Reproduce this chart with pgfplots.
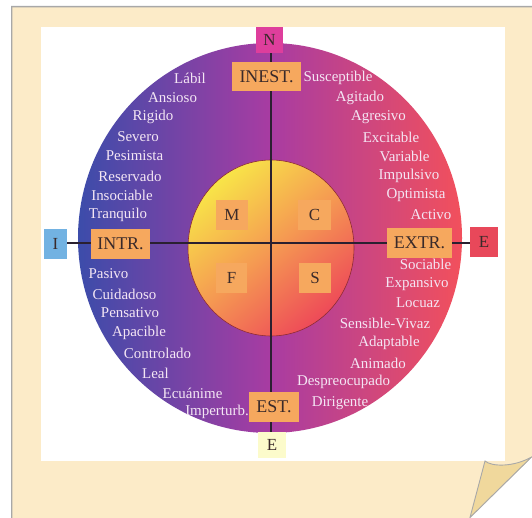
\documentclass[border=0pt]{standalone}
\usepackage{pgfplots}
\pgfplotsset{compat=1.18}
\usepackage{fontspec}
\setmainfont{Liberation Serif}
\definecolor{note}{HTML}{FCEBC8}
\definecolor{notebd}{HTML}{A8A8A8}
\definecolor{fold}{HTML}{F0D89C}
\definecolor{cblue}{HTML}{3C4CAA}
\definecolor{cmid}{HTML}{A83CA2}
\definecolor{cred}{HTML}{F2505C}
\definecolor{iyel}{HTML}{F8E448}
\definecolor{iora}{HTML}{F59A52}
\definecolor{ired}{HTML}{EE4A58}
\definecolor{boxo}{HTML}{F6A85E}
\definecolor{boxt}{HTML}{3A2A2A}
\definecolor{lab}{HTML}{F4E6F4}
\definecolor{linec}{HTML}{2A2030}
\definecolor{nbox}{HTML}{DE3E9C}
\definecolor{ibox}{HTML}{72B2E2}
\definecolor{ebox}{HTML}{E8485A}
\definecolor{sbox}{HTML}{FCFBCB}
\newcommand\labfont{\fontsize{15}{18}\selectfont}
\newcommand\boxfont{\fontsize{18}{20}\selectfont}
\newcommand\letfont{\fontsize{17}{20}\selectfont}
\begin{document}
\begin{tikzpicture}
\begin{axis}[x=1bp,y=1bp,y dir=reverse,xmin=0,xmax=532,ymin=0,ymax=518,hide axis]
% page
\fill[white] (axis cs:0,0) rectangle (axis cs:532,518);
\fill[notebd] (axis cs:11,6) -- (axis cs:532,6) -- (axis cs:532,457) -- (axis cs:470,518) -- (axis cs:11,518) -- cycle;
\fill[note] (axis cs:12.4,7.4) -- (axis cs:532,7.4) -- (axis cs:532,457) -- (axis cs:470,518) -- (axis cs:12.4,518) -- cycle;
\fill[white] (axis cs:41,27) rectangle (axis cs:505,461);
\filldraw[fill=fold, draw=notebd, line width=0.9bp] (axis cs:485,461) .. controls (axis cs:492,467) and (axis cs:514,467) .. (axis cs:531.5,457) -- (axis cs:470,517.5) -- cycle;
% circles
\path[left color=cblue, right color=cred, middle color=cmid] (axis cs:270,238) ellipse [x radius=192bp, y radius=195bp];
\path[draw=ired!60!black, line width=0.6bp, top color=iyel, bottom color=ired, middle color=iora, shading angle=40] (axis cs:271,248) ellipse [x radius=83bp, y radius=88bp];
% axes lines
\addplot[color=linec, line width=1.6bp] coordinates {(271,53) (271,432)};
\addplot[color=linec, line width=2bp] coordinates {(67,243) (470,243)};
% boxes
\fill[nbox] (axis cs:256,27) rectangle (axis cs:283,53);
\fill[boxo] (axis cs:232,62) rectangle (axis cs:301,91);
\fill[ibox] (axis cs:44,229) rectangle (axis cs:67,259);
\fill[boxo] (axis cs:91,229) rectangle (axis cs:150,259);
\fill[boxo] (axis cs:387,228) rectangle (axis cs:452,258);
\fill[ebox] (axis cs:470,227) rectangle (axis cs:498,257);
\fill[boxo] (axis cs:216,200) rectangle (axis cs:248,230);
\fill[boxo] (axis cs:298,200) rectangle (axis cs:331,230);
\fill[boxo] (axis cs:216,263) rectangle (axis cs:247,293);
\fill[boxo] (axis cs:299,263) rectangle (axis cs:331,293);
\fill[boxo] (axis cs:249,392) rectangle (axis cs:299,422);
\fill[sbox] (axis cs:258,432) rectangle (axis cs:286,458);
\node[text=boxt, font=\letfont] at (axis cs:269.5,40) {N};
\node[text=boxt, font=\boxfont] at (axis cs:266.5,76.5) {INEST.};
\node[text=boxt, font=\letfont] at (axis cs:55.5,244) {I};
\node[text=boxt, font=\boxfont] at (axis cs:120.5,244) {INTR.};
\node[text=boxt, font=\boxfont] at (axis cs:419.5,243) {EXTR.};
\node[text=boxt, font=\letfont] at (axis cs:484,242) {E};
\node[text=boxt, font=\letfont] at (axis cs:232,215) {M};
\node[text=boxt, font=\letfont] at (axis cs:314.5,215) {C};
\node[text=boxt, font=\letfont] at (axis cs:231.5,278) {F};
\node[text=boxt, font=\letfont] at (axis cs:315,278) {S};
\node[text=boxt, font=\boxfont] at (axis cs:274,407) {EST.};
\node[text=boxt, font=\letfont] at (axis cs:272,445) {E};
% labels upper left
\begin{scope}[every node/.style={text=lab, font=\labfont, inner sep=0pt}]
\node at (axis cs:190,78) {Lábil};
\node at (axis cs:172.5,98) {Ansioso};
\node at (axis cs:153,117) {Rigido};
\node at (axis cs:138,137) {Severo};
\node at (axis cs:134.5,156) {Pesimista};
\node at (axis cs:130,176) {Reservado};
\node at (axis cs:122,195) {Insociable};
\node at (axis cs:118,215) {Tranquilo};
% upper right
\node at (axis cs:338,78) {Susceptible};
\node at (axis cs:360,98) {Agitado};
\node at (axis cs:378.5,117) {Agresivo};
\node at (axis cs:391,137) {Excitable};
\node at (axis cs:404.5,156) {Variable};
\node at (axis cs:409,176) {Impulsivo};
\node at (axis cs:416,195) {Optimista};
\node at (axis cs:431,215) {Activo};
% lower left
\node at (axis cs:108.5,274) {Pasivo};
\node at (axis cs:124.5,294) {Cuidadoso};
\node at (axis cs:130,313) {Pensativo};
\node at (axis cs:139,333) {Apacible};
\node at (axis cs:157.5,353) {Controlado};
\node at (axis cs:155.5,373) {Leal};
\node at (axis cs:192.5,393) {Ecuánime};
\node at (axis cs:217,412) {Imperturb.};
% lower right
\node at (axis cs:425.5,264) {Sociable};
\node at (axis cs:417,284) {Expansivo};
\node at (axis cs:418,303) {Locuaz};
\node at (axis cs:385,323) {Sensible-Vivaz};
\node at (axis cs:389,343) {Adaptable};
\node at (axis cs:378,363) {Animado};
\node at (axis cs:343.5,382) {Despreocupado};
\node at (axis cs:340,403) {Dirigente};
\end{scope}
\end{axis}
\end{tikzpicture}
\end{document}
